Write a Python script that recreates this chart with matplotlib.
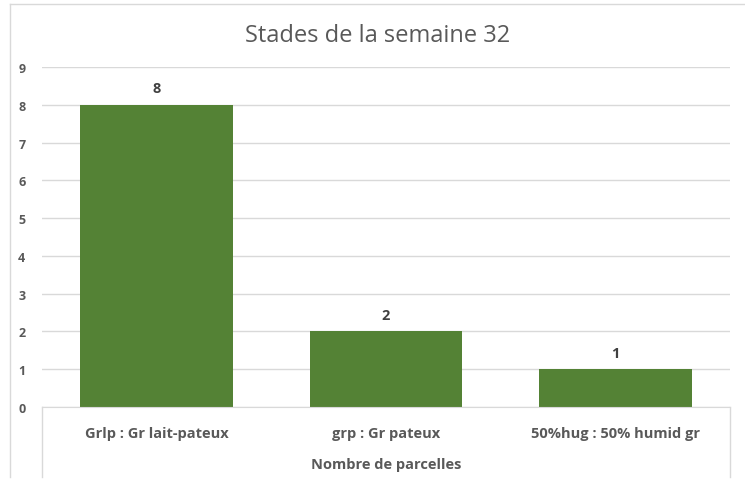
import matplotlib
matplotlib.use("Agg")
import matplotlib.pyplot as plt
from matplotlib.lines import Line2D

categories = ["Grlp : Gr lait-pateux", "grp : Gr pateux", "50%hug : 50% humid gr"]
values = [8, 2, 1]
yticks = list(range(0, 10))
title = "Stades de la semaine 32"
xlabel = "Nombre de parcelles"

W, H = 745, 481
fig = plt.figure(figsize=(W / 100, H / 100), dpi=100)
plt.rcParams['font.family'] = ['Open Sans', 'DejaVu Sans']
gray = "#595959"

x0, x1, ytop, ybot = 42, 730, 68, 408
ax = fig.add_axes([x0 / W, 1 - ybot / H, (x1 - x0) / W, (ybot - ytop) / H])
pos = range(len(categories))
bars = ax.bar(pos, values, width=0.665, color="#548235", zorder=3)
ax.set_xlim(-0.5, len(categories) - 0.5)
ax.set_ylim(0, 9)
ax.set_yticks(yticks)
ax.set_yticklabels([str(t) for t in yticks], fontsize=9, color=gray, fontweight="bold")
ax.tick_params(axis="y", length=0, pad=12)
ax.set_xticks(list(pos))
ax.set_xticklabels(categories, fontsize=10.5, color=gray, fontweight="bold")
ax.tick_params(axis="x", length=0, pad=14)
ax.grid(axis="y", color="#d9d9d9", linewidth=1, zorder=0)
for s in ["top", "right", "left"]:
    ax.spines[s].set_visible(False)
ax.spines["bottom"].set_color("#d9d9d9")
ax.spines["bottom"].set_zorder(4)
for b, v in zip(bars, values):
    ax.annotate(str(v), (b.get_x() + b.get_width() / 2, v), xytext=(0, 7),
                textcoords="offset points", ha="center", va="bottom",
                fontsize=10.5, fontweight="bold", color="#404040")

fig.text(0.5 * (x0 + x1) / W, 1 - 465 / H, xlabel, ha="center", va="center",
         fontsize=10.5, fontweight="bold", color=gray)
fig.text(378 / W, 1 - 36 / H, title, ha="center", va="center", fontsize=17, color=gray)

def fl(xa, ya, xb, yb, c="#d9d9d9"):
    fig.add_artist(Line2D([xa / W, xb / W], [1 - ya / H, 1 - yb / H], color=c, linewidth=1,
                          transform=fig.transFigure))

fl(x0, ybot, x0, 478)
fl(x1, ybot, x1, 478)
fl(10, 5, 10, 478)
fl(10, 5, 745, 5)

fig.savefig("out.png", dpi=100)
